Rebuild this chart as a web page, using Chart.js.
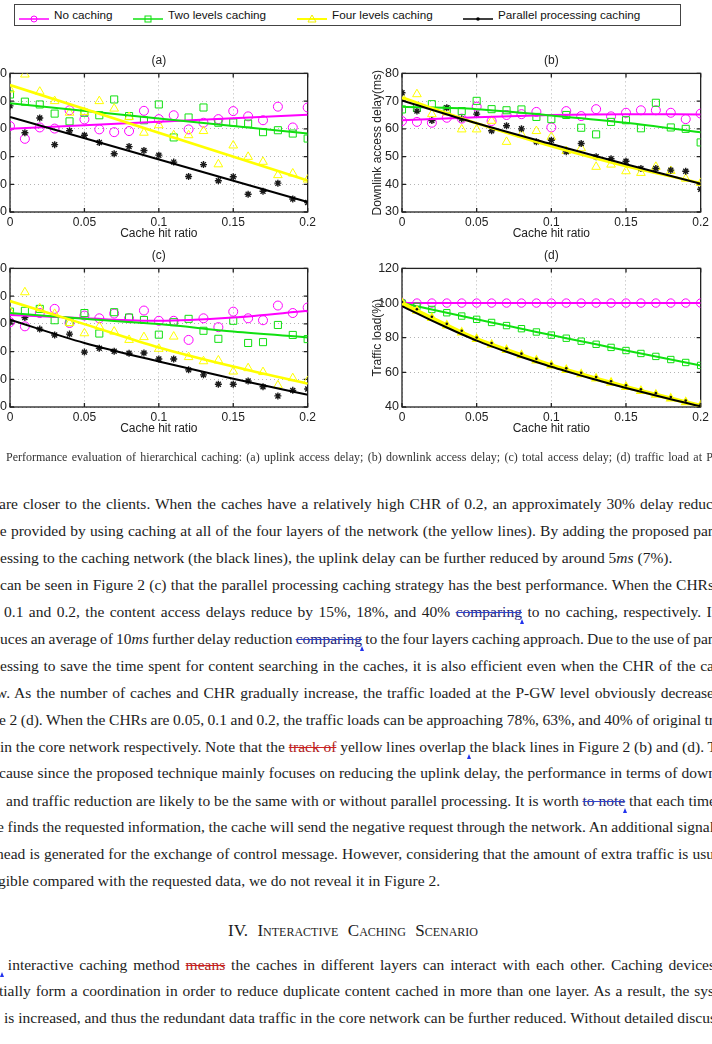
<!DOCTYPE html>
<html>
<head>
<meta charset="utf-8">
<script src="https://cdn.jsdelivr.net/npm/chart.js@4.4.1/dist/chart.umd.min.js"></script>
<style>
  html, body { margin: 0; padding: 0; background: #fff; }
  #page { position: relative; width: 712px; height: 1044px; overflow: hidden; background: #fff; }
  canvas { position: absolute; }
  #legend { position: absolute; left: 14px; top: 4px; width: 667px; height: 22px; border: 1px solid #444; box-sizing: border-box; }
  .lg { position: absolute; top: 9px; font: 11.7px "Liberation Sans", Arial, sans-serif; color: #111; line-height: 1; }
  .lgi { position: absolute; top: 10px; }
  .ln { position: absolute; white-space: nowrap; font: 15.5px "Liberation Serif", "Times New Roman", serif; color: #1c1c1c; line-height: 1; }
  .cap { font-size: 12px; color: #333; }
  .hd { font-variant: small-caps; font-size: 17px; }
  s.b { color: #23237a; text-decoration-color: #3344cc; }
  s.r { color: #b02020; text-decoration-color: #d02020; }
  i.c { display: inline-block; width: 0; height: 0; position: relative; }
  i.c::after { content: ''; position: absolute; left: -2px; top: 2px; border-left: 2.5px solid transparent; border-right: 2.5px solid transparent; border-bottom: 5px solid #2233ee; }
</style>
</head>
<body>
<div id="page">
  <div id="legend"></div>
  <canvas id="ca" width="351" height="205" style="left:-32px;top:40px"></canvas>
  <canvas id="cb" width="352" height="205" style="left:360px;top:40px"></canvas>
  <canvas id="cc" width="351" height="205" style="left:-32px;top:235px"></canvas>
  <canvas id="cd" width="352" height="205" style="left:360px;top:235px"></canvas>

  <div class="ln cap" style="left:6px;top:450.5px" data-end="713">Performance evaluation of hierarchical caching: (a) uplink access delay; (b) downlink access delay; (c) total access delay; (d) traffic load at P</div>

  <div class="ln" style="left:-1px;top:495.5px" data-end="713">are closer to the clients. When the caches have a relatively high CHR of 0.2, an approximately 30% delay reduc</div>
  <div class="ln" style="left:-8px;top:522.5px" data-end="713">be provided by using caching at all of the four layers of the network (the yellow lines). By adding the proposed par</div>
  <div class="ln" style="left:0px;top:549.5px">essing to the caching network (the black lines), the uplink delay can be further reduced by around 5<em>ms</em> (7%).</div>
  <div class="ln" style="left:0px;top:576.5px" data-end="714">can be seen in Figure 2 (c) that the parallel processing caching strategy has the best performance. When the CHRs</div>
  <div class="ln" style="left:4px;top:603.5px" data-end="716">0.1 and 0.2, the content access delays reduce by 15%, 18%, and 40% <s class="b">comparing</s><i class="c"></i> to no caching, respectively. It</div>
  <div class="ln" style="left:0px;top:631px" data-end="713">uces an average of 10<em>ms</em> further delay reduction <s class="b">comparing</s><i class="c"></i> to the four layers caching approach. Due to the use of par</div>
  <div class="ln" style="left:0px;top:657.5px" data-end="714">essing to save the time spent for content searching in the caches, it is also efficient even when the CHR of the ca</div>
  <div class="ln" style="left:-4px;top:684.5px" data-end="714">w. As the number of caches and CHR gradually increase, the traffic loaded at the P-GW level obviously decrease</div>
  <div class="ln" style="left:-1px;top:711.5px" data-end="714">e 2 (d). When the CHRs are 0.05, 0.1 and 0.2, the traffic loads can be approaching 78%, 63%, and 40% of original tr</div>
  <div class="ln" style="left:0px;top:738.5px" data-end="717">in the core network respectively. Note that the <s class="r">track of</s> yellow lines overlap <i class="c"></i>the black lines in Figure 2 (b) and (d). T</div>
  <div class="ln" style="left:-1px;top:765px" data-end="716">cause since the proposed technique mainly focuses on reducing the uplink delay, the performance in terms of down</div>
  <div class="ln" style="left:6px;top:792.5px" data-end="716">and traffic reduction are likely to be the same with or without parallel processing. It is worth <s class="b">to note</s><i class="c"></i> that each time</div>
  <div class="ln" style="left:-3px;top:818.5px" data-end="714">e finds the requested information, the cache will send the negative request through the network. An additional signal</div>
  <div class="ln" style="left:-4px;top:845.5px" data-end="714">head is generated for the exchange of control message. However, considering that the amount of extra traffic is usu</div>
  <div class="ln" style="left:-2px;top:872.5px">gible compared with the requested data, we do not reveal it in Figure 2.</div>

  <div class="ln hd" style="left:228px;top:921.5px" data-end="478">IV. Interactive Caching Scenario</div>

  <div class="ln" style="left:2px;top:956.5px" data-end="715"><i class="c"></i> interactive caching method <s class="r">means</s> the caches in different layers can interact with each other. Caching devices</div>
  <div class="ln" style="left:-1px;top:982.5px" data-end="714">tially form a coordination in order to reduce duplicate content cached in more than one layer. As a result, the sys</div>
  <div class="ln" style="left:4px;top:1009.5px" data-end="716">is increased, and thus the redundant data traffic in the core network can be further reduced. Without detailed discus</div>
</div>

<script>
// cache hit ratio of every simulated point
const chr = [0, 0.01, 0.02, 0.03, 0.04, 0.05, 0.06, 0.07, 0.08, 0.09, 0.1,
             0.11, 0.12, 0.13, 0.14, 0.15, 0.16, 0.17, 0.18, 0.19, 0.2]
const fitEnds = [0, 0.2]
const fitX = [0, 0.05, 0.1, 0.15, 0.2]
const xTickLabels = ['0', '0.05', '0.1', '0.15', '0.2']
const seriesNames = ['No caching', 'Two levels caching', 'Four levels caching', 'Parallel processing caching']

// (a) uplink access delay
const upNone = [71.0, 66.4, 70.5, 70.1, 76.7, 73.4, 69.8, 68.8, 69.2, 76.5, 73.5, 74.9, 69.8, 72.2, 73.5, 76.4, 74.5, 73.1, 78.0, 70.5, 77.7]
const upTwo = [82.4, 79.8, 78.8, 75.5, 72.7, 75.8, 74.9, 80.6, 74.6, 73.1, 78.8, 66.9, 74.1, 77.7, 72.2, 72.3, 71.9, 68.8, 69.5, 68.3, 66.5]
const upFour = [84.2, 89.6, 83.4, 80.0, 75.8, 76.1, 80.0, 77.3, 74.3, 68.6, 71.3, 67.7, 67.7, 69.2, 57.2, 64.0, 59.9, 58.1, 53.3, 53.9, 51.7]
const upPar = [78.3, 68.6, 73.9, 64.3, 69.3, 67.7, 65.1, 61.0, 63.6, 62.2, 60.5, 58.0, 52.8, 57.1, 51.3, 52.7, 46.4, 47.5, 50.4, 44.7, 43.4]
const upFitNone = [70.0, 75.1]
const upFitTwo = [79.2, 68.3]
const upFitFour = [85.8, 51.4]
const upFitPar = [74.3, 43.6]

// (b) downlink access delay
const downNone = [62.8, 62.5, 62.2, 64.0, 63.7, 68.0, 62.8, 65.0, 65.3, 66.1, 60.5, 66.4, 64.6, 67.1, 64.5, 65.8, 66.7, 66.7, 65.8, 63.5, 65.5]
const downTwo = [67.0, 67.5, 68.9, 67.0, 66.4, 70.1, 67.1, 66.7, 67.0, 64.3, 63.5, 65.0, 60.4, 58.0, 62.5, 63.1, 60.2, 69.4, 60.5, 60.0, 55.1]
const downFour = [71.6, 72.5, 65.3, 65.9, 59.8, 59.8, 62.9, 55.3, 58.0, 59.2, 57.1, 52.0, 53.0, 46.3, 47.1, 44.7, 44.1, 46.3, 44.8, 42.0, 40.5]
const downPar = [73.0, 66.4, 63.0, 67.6, 63.6, 65.3, 59.3, 61.1, 60.0, 55.3, 55.9, 51.7, 54.7, 49.9, 49.2, 48.3, 45.7, 45.7, 45.1, 44.7, 38.2]
const downFitNone = [63.1, 64.2, 65.0, 65.3, 65.2]
const downFitTwo = [68.0, 67.1, 64.8, 62.2, 58.8]
const downFitFour = [71.3, 62.0, 53.7, 46.5, 40.5]
const downFitPar = [70.2, 62.0, 54.5, 47.2, 40.2]

// (c) total access delay
const totNone = [131.2, 128.2, 137.8, 140.8, 130.6, 136.0, 134.0, 137.4, 134.0, 139.6, 132.2, 132.2, 118.4, 134.0, 127.6, 138.8, 134.0, 132.6, 143.2, 137.8, 141.8]
const totTwo = [138.8, 139.4, 140.8, 132.6, 131.2, 137.8, 123.0, 138.4, 134.6, 132.8, 122.2, 131.2, 133.6, 125.0, 119.2, 132.2, 116.2, 116.8, 129.2, 122.0, 119.0]
const totFour = [138.8, 152.8, 141.2, 137.2, 130.6, 123.2, 128.0, 124.4, 118.4, 120.4, 112.0, 120.8, 106.0, 103.0, 103.6, 95.6, 98.0, 95.2, 85.6, 90.8, 88.8]
const totPar = [131.4, 134.6, 126.2, 122.0, 122.6, 109.6, 112.4, 110.2, 108.8, 109.0, 104.6, 104.6, 96.8, 93.2, 86.4, 86.4, 88.8, 84.6, 78.0, 82.0, 83.0]
const totFitNone = [136.4, 134.0, 132.2, 134.6, 139.4]
const totFitTwo = [137.8, 133.6, 129.8, 124.4, 120.2]
const totFitFour = [146.4, 129.8, 113.0, 99.2, 86.8]
const totFitPar = [133.0, 116.2, 102.8, 90.4, 78.8]

// (d) traffic load at P-GW (%)
const loadNone = [100, 100, 100, 100, 100, 100, 100, 100, 100, 100, 100, 100, 100, 100, 100, 100, 100, 100, 100, 100, 100]
const loadTwo = [100, 98.1, 96.3, 94.4, 92.5, 90.6, 88.8, 87.0, 85.2, 83.3, 81.5, 79.7, 78.0, 76.2, 74.4, 72.6, 70.9, 69.2, 67.4, 65.7, 64.0]
const loadFour = [100, 95.6, 91.3, 87.1, 83.0, 79.2, 76.0, 72.9, 69.9, 66.9, 64.0, 61.4, 58.9, 56.4, 54.0, 51.6, 49.3, 47.1, 44.9, 42.8, 40.8]
const loadPar = [100.6, 96.4, 92.1, 88.0, 84.0, 80.1, 76.9, 73.8, 70.8, 67.8, 65.0, 62.3, 59.8, 57.3, 54.9, 52.5, 50.2, 48.0, 45.8, 43.7, 41.6]
const loadParLine = [98.2, 94.0, 89.9, 85.9, 82.0, 78.3, 75.0, 71.9, 68.9, 66.0, 63.2, 60.6, 58.1, 55.7, 53.3, 51.0, 48.8, 46.6, 44.5, 42.4, 40.4]

const FONT = '"Liberation Sans", Arial, sans-serif'
const MAGENTA = '#ff00ff', GREEN = '#10e010', YELLOW = '#ffff00', BLACK = '#000000'

const styles = {
    none: { color: MAGENTA, pointStyle: 'circle', radius: 4.5, width: 1 },
    two: { color: GREEN, pointStyle: 'rect', radius: 5, width: 1 },
    four: { color: YELLOW, pointStyle: 'triangle', radius: 5, width: 1 },
    par: { color: '#1a1a1a', pointStyle: 'star', radius: 3.5, width: 1.4 }
}

const toPoints = (xs, ys) => xs.map((x, i) => ({ x: x, y: ys[i] }))

function markers(ys, s) {
    return {
        data: toPoints(chr, ys), showLine: false,
        pointStyle: s.pointStyle, pointRadius: s.radius, borderWidth: s.width,
        borderColor: s.color, backgroundColor: 'rgba(0,0,0,0)'
    }
}

function curve(xs, ys, color, width) {
    return {
        data: toPoints(xs, ys), showLine: true, pointRadius: 0,
        borderColor: color, borderWidth: width, cubicInterpolationMode: 'monotone'
    }
}

// axes box, inward ticks and the (a)..(d) title, like the matlab figure
const boxPlugin = {
    id: 'box',
    beforeDatasetsDraw(chart) {
        const { ctx, chartArea: a, scales } = chart
        ctx.save()
        ctx.strokeStyle = '#222'
        ctx.lineWidth = 1.3
        ctx.strokeRect(a.left, a.top, a.right - a.left, a.bottom - a.top)
        ctx.beginPath()
        scales.x.ticks.forEach(t => {
            const px = scales.x.getPixelForValue(t.value)
            ctx.moveTo(px, a.bottom); ctx.lineTo(px, a.bottom - 4)
            ctx.moveTo(px, a.top); ctx.lineTo(px, a.top + 4)
        })
        scales.y.ticks.forEach(t => {
            const py = scales.y.getPixelForValue(t.value)
            ctx.moveTo(a.left, py); ctx.lineTo(a.left + 4, py)
            ctx.moveTo(a.right, py); ctx.lineTo(a.right - 4, py)
        })
        ctx.stroke()
        ctx.restore()
    },
    afterDraw(chart, args, opts) {
        const { ctx, chartArea: a } = chart
        ctx.save()
        ctx.fillStyle = '#222'
        ctx.font = '12px ' + FONT
        ctx.textAlign = 'center'
        ctx.textBaseline = 'middle'
        ctx.fillText(opts.title, (a.left + a.right) / 2, a.top - 13)
        ctx.restore()
    }
}

function makePanel(id, title, yTitle, yMin, yMax, yStep, datasets) {
    return new Chart(document.getElementById(id), {
        type: 'scatter',
        data: { datasets: datasets },
        options: {
            responsive: false,
            animation: false,
            devicePixelRatio: 1,
            layout: { padding: { top: 33.4, right: 10 } },
            plugins: {
                legend: { display: false },
                tooltip: { enabled: false },
                box: { title: title }
            },
            scales: {
                x: {
                    type: 'linear', min: 0, max: 0.2,
                    afterFit: s => { s.height = 33 },
                    ticks: {
                        stepSize: 0.05, padding: 3, color: '#222', maxRotation: 0,
                        font: { size: 12, family: FONT },
                        callback: v => xTickLabels[Math.round(v / 0.05)]
                    },
                    grid: { color: '#b4b4b4', drawTicks: false },
                    border: { display: false, dash: [1, 3] },
                    title: { display: true, text: 'Cache hit ratio', color: '#222', font: { size: 12, family: FONT }, padding: { top: 0, bottom: 4 } }
                },
                y: {
                    min: yMin, max: yMax,
                    afterFit: s => { s.width = 42 },
                    ticks: { stepSize: yStep, padding: 3, color: '#222', font: { size: 12.5, family: FONT } },
                    grid: { color: '#b4b4b4', drawTicks: false },
                    border: { display: false, dash: [1, 3] },
                    title: { display: true, text: yTitle, color: '#222', font: { size: 12, family: FONT }, padding: { top: 10, bottom: 0 } }
                }
            }
        },
        plugins: [boxPlugin]
    })
}

function delaySets(fxs, fits, pts) {
    return [
        curve(fxs, fits[3], BLACK, 2),
        curve(fxs, fits[2], YELLOW, 2.6),
        curve(fxs, fits[1], GREEN, 2),
        curve(fxs, fits[0], MAGENTA, 2),
        markers(pts[3], styles.par),
        markers(pts[2], styles.four),
        markers(pts[1], styles.two),
        markers(pts[0], styles.none)
    ]
}

makePanel('ca', '(a)', 'Uplink access delay(ms)', 40, 90, 10,
    delaySets(fitEnds, [upFitNone, upFitTwo, upFitFour, upFitPar], [upNone, upTwo, upFour, upPar]))
makePanel('cb', '(b)', 'Downlink access delay(ms)', 30, 80, 10,
    delaySets(fitX, [downFitNone, downFitTwo, downFitFour, downFitPar], [downNone, downTwo, downFour, downPar]))
makePanel('cc', '(c)', 'Total access delay(ms)', 70, 170, 20,
    delaySets(fitX, [totFitNone, totFitTwo, totFitFour, totFitPar], [totNone, totTwo, totFour, totPar]))

makePanel('cd', '(d)', 'Traffic load(%)', 40, 120, 20, [
    { data: toPoints(chr, loadPar), showLine: false, pointStyle: 'circle', pointRadius: 1.3, borderWidth: 0, backgroundColor: '#111' },
    curve(chr, loadParLine, BLACK, 2),
    Object.assign(markers(loadFour, { color: YELLOW, pointStyle: 'triangle', radius: 4.5, width: 1.5 }), { showLine: true, borderWidth: 4, pointBorderWidth: 1.5 }),
    Object.assign(markers(loadTwo, { color: GREEN, pointStyle: 'rect', radius: 4.5, width: 1 }), { showLine: true, borderWidth: 2, pointBorderWidth: 1 }),
    Object.assign(markers(loadNone, { color: MAGENTA, pointStyle: 'circle', radius: 4.2, width: 1 }), { showLine: true, borderWidth: 2, pointBorderWidth: 1 })
])

// shared legend above the four panels
const legendX = [19, 133, 297, 463]
const legendMarks = [
    '<circle cx="15" cy="5" r="3" fill="none" stroke="' + MAGENTA + '" stroke-width="1"/>',
    '<rect x="12" y="2" width="6" height="6" fill="none" stroke="' + GREEN + '" stroke-width="1"/>',
    '<polygon points="15,1 19,8 11,8" fill="none" stroke="#f0f000" stroke-width="1"/>',
    '<circle cx="15" cy="5" r="1.8" fill="#000"/>'
]
const legendLine = [MAGENTA, GREEN, YELLOW, BLACK]
const page = document.getElementById('page')
seriesNames.forEach((name, i) => {
    const icon = document.createElement('div')
    icon.className = 'lgi'
    icon.style.left = legendX[i] + 'px'
    icon.innerHTML = '<svg width="30" height="10"><line x1="0" y1="5" x2="30" y2="5" stroke="' + legendLine[i] + '" stroke-width="' + (i === 2 ? 2 : 1.5) + '"/>' + legendMarks[i] + '</svg>'
    page.appendChild(icon)
    const label = document.createElement('div')
    label.className = 'lg'
    label.style.left = (legendX[i] + 35) + 'px'
    label.textContent = name
    page.appendChild(label)
})

// justify the text lines so they run out to the page edge like the scanned column
document.querySelectorAll('.ln[data-end]').forEach(el => {
    const end = parseFloat(el.dataset.end)
    const left = parseFloat(el.style.left)
    const w = el.getBoundingClientRect().width
    const spaces = (el.textContent.match(/ /g) || []).length
    if (spaces) el.style.wordSpacing = ((end - left - w) / spaces) + 'px'
})
</script>
</body>
</html>
